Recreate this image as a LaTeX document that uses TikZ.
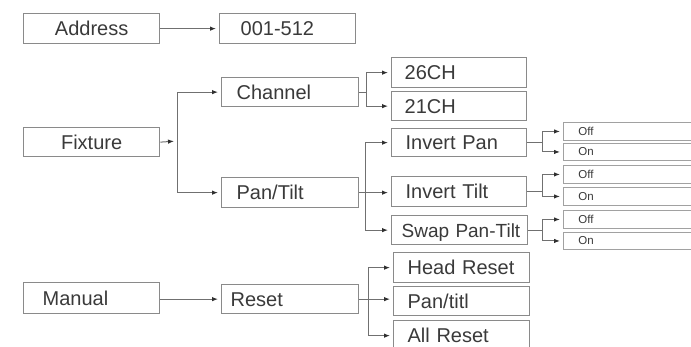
\documentclass[tikz,border=0pt]{standalone}
\usepackage{fontspec}
\setmainfont{Liberation Sans}
\usetikzlibrary{arrows.meta}
\definecolor{boxc}{HTML}{8A8A8A}
\definecolor{linec}{HTML}{707070}
\definecolor{tipc}{HTML}{303030}
\definecolor{txtc}{HTML}{3A3A3A}
\tikzset{
  mbox/.style n args={3}{draw=boxc, line width=1.3pt, anchor=north west, inner ysep=0pt,
     minimum height=#2, inner xsep=#3, text width=#1-2*#3, align=left,
     font=\fontsize{20}{22}\selectfont, text=txtc, text height=14pt, text depth=0pt},
  cbox/.style n args={2}{draw=boxc, line width=1.3pt, anchor=north west, inner ysep=0pt,
     minimum height=#2, inner xsep=0pt, text width=#1, align=center,
     font=\fontsize{20}{22}\selectfont, text=txtc, text height=14pt, text depth=0pt},
  sbox/.style={draw=boxc!80, line width=0.9pt, anchor=north west, inner ysep=0pt,
     minimum height=#1, inner xsep=15pt, text width=140pt, align=left,
     font=\fontsize{11.5}{12}\selectfont, text=txtc, text height=8pt, text depth=0pt},
  conn/.style={draw=linec, line width=1pt},
  arr/.style={conn, -{Latex[length=6pt,width=4.5pt,color=tipc]}, shorten >=3pt},
}
\begin{document}
\begin{tikzpicture}[x=1pt,y=-1pt]
\useasboundingbox (0,0) rectangle (691,347);
\clip (0,0) rectangle (691,347);
\fill[white] (0,0) rectangle (691,347);
% level 1
\node[cbox={136pt}{30pt}] (address) at (23,13) {Address};
\node[cbox={136pt}{29pt}] (fixture) at (23,127) {Fixture};
\node[mbox={136pt}{31pt}{19pt}] (manual) at (23,282) {Manual};
% level 2
\node[mbox={136pt}{30pt}{21pt}] (range) at (219,13) {001-512};
\node[mbox={137pt}{29pt}{15pt}] (channel) at (221,77) {Channel};
\node[mbox={137pt}{30pt}{15pt}] (pantilt) at (221,177) {Pan/Tilt};
\node[mbox={137pt}{29pt}{9pt}] (reset) at (221,284) {Reset};
% level 3
\node[mbox={135pt}{30pt}{13pt}] (ch26) at (391,57) {26CH};
\node[mbox={135pt}{29pt}{13pt}] (ch21) at (391,91) {21CH};
\node[mbox={135pt}{28pt}{14pt}] (invpan) at (391,128) {Invert Pan};
\node[mbox={135pt}{30pt}{14pt}] (invtilt) at (391,176) {Invert Tilt};
\node[mbox={136pt}{29pt}{10pt}, font=\fontsize{19}{21}\selectfont] (swap) at (391,215) {\mbox{Swap Pan-Tilt}};
\node[mbox={136pt}{30pt}{14pt}] (head) at (393,252) {Head Reset};
\node[mbox={136pt}{29pt}{14pt}] (pantitl) at (393,286) {Pan/titl};
\node[mbox={136pt}{30pt}{14pt}] (allreset) at (393,320) {All Reset};
% level 4
\node[sbox=18pt] (off1) at (563,122) {Off};
\node[sbox=17pt] (on1) at (563,143) {On};
\node[sbox=18pt] (off2) at (563,165) {Off};
\node[sbox=18pt] (on2) at (563,187) {On};
\node[sbox=18pt] (off3) at (563,210) {Off};
\node[sbox=17pt] (on3) at (563,232) {On};
% connectors
\draw[arr] (address.east) -- (range.west);
\draw[arr] (manual.east |- reset.west) -- (reset.west);
\coordinate (jf) at (177,141);
\draw[arr] (fixture.east) -- (jf);
\draw[arr] (jf) |- (channel.west);
\draw[arr] (jf) |- (pantilt.west);
\draw[conn] (channel.east) -- ++(7,0) coordinate (jc);
\draw[arr] (jc) |- (ch26.west);
\draw[arr] (jc) |- (ch21.west);
\draw[arr] (pantilt.east) -- (pantilt.east -| invtilt.west);
\coordinate (jp) at (365,192);
\draw[arr] (jp) |- (invpan.west);
\draw[arr] (jp) |- (swap.west);
\draw[arr] (reset.east) -- (reset.east -| pantitl.west);
\coordinate (jr) at (368,298.5);
\draw[arr] (jr) |- (head.west);
\draw[arr] (jr) |- (allreset.west);
\draw[conn] (invpan.east) -- (invpan.east -| 542,0) coordinate (j1);
\draw[arr] (j1) |- (off1.west);
\draw[arr] (j1) |- (on1.west);
\draw[conn] (invtilt.east) -- (invtilt.east -| 542,0) coordinate (j2);
\draw[arr] (j2) |- (off2.west);
\draw[arr] (j2) |- (on2.west);
\draw[conn] (swap.east) -- (swap.east -| 542,0) coordinate (j3);
\draw[arr] (j3) |- (off3.west);
\draw[arr] (j3) |- (on3.west);
\end{tikzpicture}
\end{document}
